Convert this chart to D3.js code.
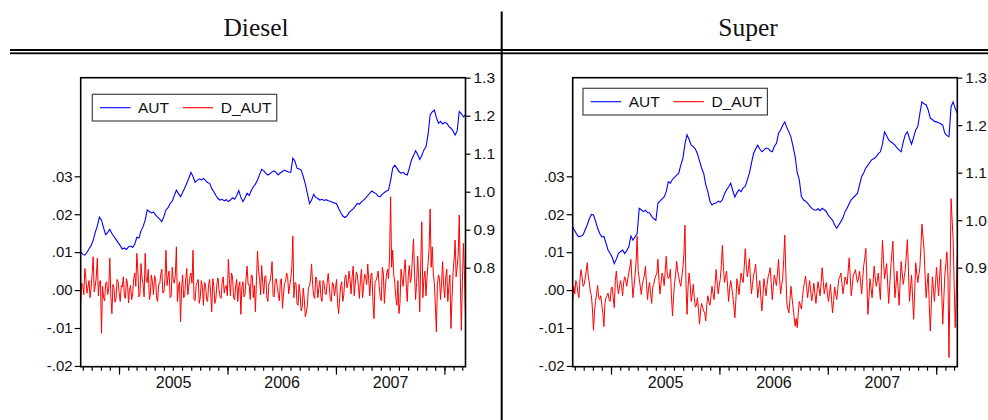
<!DOCTYPE html>
<html>
<head>
<meta charset="utf-8">
<script src="https://cdn.jsdelivr.net/npm/d3@7/dist/d3.min.js"></script>
<style>
  html, body { margin: 0; padding: 0; background: #fff; }
  svg { display: block; }
  .axis text { font-family: "Liberation Sans", Arial, sans-serif; font-size: 15px; fill: #111; }
  .axis.bx text { font-size: 16px; }
  .axis.ry text { font-size: 15.5px; }
  .axis line { stroke: #000; stroke-width: 1.2; }
  .axis path { display: none; }
</style>
</head>
<body>
<svg id="chart" width="988" height="420"></svg>
<script>
// ---------------- DATA ----------------
const panelTitles = ["Diesel", "Super"];
const seriesNames = ["AUT", "D_AUT"];
const startDate = "2004-08-25";   // first weekly observation
const endDate = "2008-03-12";
const yearLabels = [2005, 2006, 2007];
const leftTicks = [-0.02, -0.01, 0.00, 0.01, 0.02, 0.03];
const leftTickLabels = ["-.02", "-.01", ".00", ".01", ".02", ".03"];
const rightTicksDiesel = [0.8, 0.9, 1.0, 1.1, 1.2, 1.3];
const rightTicksSuper = [0.9, 1.0, 1.1, 1.2, 1.3];

// AUT: weekly observations
const autDiesel = [
0.842,0.835,0.833,0.840,0.850,0.858,0.872,0.893,0.910,0.933,
0.925,0.905,0.887,0.893,0.901,0.890,0.882,0.874,0.866,0.858,
0.849,0.852,0.848,0.855,0.857,0.853,0.862,0.880,0.878,0.897,
0.908,0.925,0.952,0.948,0.944,0.946,0.939,0.933,0.928,0.921,
0.935,0.952,0.958,0.969,0.975,0.990,1.004,0.995,0.987,0.998,
1.010,1.022,1.036,1.051,1.040,1.025,1.030,1.034,1.031,1.035,
1.030,1.024,1.022,1.008,1.000,0.990,0.982,0.978,0.980,0.976,
0.979,0.974,0.978,0.984,0.980,0.990,1.003,0.985,0.974,0.984,
0.996,0.990,1.003,1.013,1.020,1.031,1.045,1.059,1.055,1.048,
1.044,1.047,1.052,1.055,1.050,1.044,1.050,1.053,1.057,1.054,
1.052,1.051,1.088,1.080,1.062,1.060,1.057,1.040,1.020,0.995,
0.969,0.978,0.993,0.985,0.982,0.978,0.980,0.977,0.979,0.976,
0.975,0.972,0.970,0.969,0.956,0.945,0.936,0.932,0.936,0.945,
0.950,0.955,0.962,0.969,0.967,0.973,0.978,0.983,0.990,0.996,
1.002,0.998,0.995,0.988,0.987,0.993,0.998,1.002,1.004,1.030,
1.062,1.070,1.062,1.053,1.049,1.051,1.046,1.044,1.062,1.083,
1.095,1.108,1.098,1.085,1.095,1.110,1.118,1.150,1.202,1.210,
1.215,1.195,1.180,1.185,1.178,1.182,1.180,1.172,1.167,1.160,
1.149,1.160,1.211,1.205,1.197,1.202
];

const autSuper = [
0.985,0.978,0.970,0.965,0.967,0.969,0.980,0.990,1.003,1.012,
1.011,0.998,0.983,0.972,0.965,0.966,0.952,0.937,0.930,0.922,
0.909,0.918,0.930,0.934,0.937,0.930,0.936,0.944,0.967,0.958,
0.965,0.972,1.025,1.022,1.018,1.021,1.016,1.015,1.008,1.003,
1.000,1.036,1.040,1.045,1.049,1.060,1.081,1.078,1.086,1.090,
1.095,1.099,1.116,1.130,1.160,1.180,1.170,1.158,1.155,1.150,
1.140,1.125,1.110,1.099,1.075,1.060,1.040,1.032,1.035,1.036,
1.040,1.038,1.043,1.055,1.064,1.070,1.078,1.062,1.049,1.058,
1.064,1.060,1.068,1.071,1.085,1.099,1.120,1.141,1.150,1.158,
1.150,1.144,1.148,1.152,1.151,1.146,1.144,1.155,1.162,1.183,
1.190,1.200,1.207,1.195,1.186,1.175,1.155,1.134,1.100,1.085,
1.050,1.043,1.040,1.036,1.030,1.025,1.022,1.021,1.024,1.020,
1.025,1.022,1.018,1.010,1.005,1.000,0.990,0.983,0.990,0.997,
1.005,1.018,1.025,1.035,1.043,1.048,1.052,1.057,1.075,1.092,
1.100,1.110,1.116,1.122,1.128,1.130,1.134,1.140,1.144,1.160,
1.186,1.178,1.169,1.165,1.162,1.158,1.152,1.148,1.144,1.165,
1.180,1.186,1.172,1.160,1.175,1.190,1.197,1.225,1.249,1.245,
1.243,1.232,1.215,1.212,1.208,1.207,1.205,1.203,1.200,1.183,
1.178,1.176,1.239,1.249,1.235,1.225
];

// D_AUT: observations at the start of each week ...
const dAutDiesel = [
-0.0031,0.0012,0.0057,-0.0008,0.0025,0.0006,0.0088,0.0010,0.0084,0.0021,
-0.0114,-0.0020,0.0018,-0.0012,0.0084,-0.0062,0.0005,-0.0021,0.0022,-0.0030,
0.0008,-0.0015,0.0030,-0.0034,0.0012,-0.0010,0.0045,0.0097,-0.0018,0.0070,
0.0015,0.0097,0.0020,-0.0025,0.0040,-0.0012,0.0030,-0.0030,0.0016,0.0055,
-0.0005,0.0105,0.0035,-0.0020,0.0060,0.0018,0.0114,0.0008,-0.0084,0.0040,
-0.0015,0.0057,0.0010,0.0045,0.0105,-0.0028,0.0020,-0.0035,0.0025,-0.0040,
0.0015,-0.0030,0.0028,-0.0057,0.0010,-0.0022,0.0032,-0.0018,0.0020,-0.0008,
0.0012,0.0081,-0.0015,0.0035,-0.0025,0.0028,0.0010,-0.0064,0.0022,-0.0012,
0.0063,0.0015,0.0040,-0.0020,-0.0057,0.0103,0.0030,0.0065,-0.0010,0.0038,
-0.0030,0.0022,0.0075,-0.0018,0.0030,-0.0012,0.0025,-0.0048,0.0018,0.0045,
-0.0010,0.0030,0.0142,0.0020,-0.0035,0.0015,-0.0055,0.0005,-0.0070,-0.0040,
0.0010,0.0069,-0.0015,0.0035,-0.0020,0.0025,-0.0030,0.0018,-0.0012,0.0044,
-0.0025,0.0020,-0.0015,0.0028,-0.0062,0.0012,-0.0030,0.0032,0.0006,0.0050,
-0.0010,0.0063,0.0015,0.0040,-0.0022,0.0055,0.0008,0.0035,0.0069,-0.0015,
0.0045,-0.0075,0.0025,0.0050,-0.0020,0.0060,-0.0035,0.0040,0.0030,0.0246,
0.0105,0.0020,-0.0040,-0.0062,0.0055,0.0010,0.0080,-0.0030,0.0065,0.0035,
0.0135,-0.0025,0.0090,-0.0057,0.0180,0.0030,-0.0015,0.0070,0.0214,0.0114,
0.0020,-0.0110,0.0040,-0.0025,0.0075,-0.0020,0.0055,0.0010,-0.0101,0.0045,
0.0132,0.0060,0.0198,-0.0106,0.0123,-0.0070
];
// ... and at mid-week
const dAutDieselMid = [
0.0018,-0.0012,0.0030,0.0008,-0.0020,0.0042,-0.0005,0.0035,-0.0015,0.0025,
0.0010,-0.0028,0.0022,0.0005,-0.0018,0.0015,-0.0032,0.0028,-0.0008,0.0012,
0.0035,-0.0022,0.0018,0.0002,-0.0025,0.0030,0.0010,0.0048,-0.0010,0.0032,
-0.0018,0.0025,0.0055,-0.0012,0.0020,0.0038,-0.0022,0.0015,0.0042,-0.0008,
0.0030,0.0012,0.0050,-0.0015,0.0028,0.0040,-0.0030,0.0022,0.0005,-0.0020,
0.0030,-0.0012,0.0035,0.0018,-0.0025,0.0012,0.0028,-0.0018,0.0008,0.0020,
-0.0025,0.0015,-0.0010,0.0030,-0.0035,0.0018,0.0002,-0.0022,0.0035,0.0010,
-0.0015,0.0028,0.0045,-0.0020,0.0012,-0.0030,0.0022,0.0008,-0.0018,0.0030,
0.0015,-0.0025,0.0038,0.0012,0.0025,0.0050,-0.0012,0.0020,0.0035,-0.0020,
0.0018,0.0040,-0.0015,0.0025,0.0008,-0.0028,0.0030,-0.0010,0.0022,0.0035,
0.0012,0.0060,-0.0020,0.0018,-0.0040,-0.0010,-0.0045,-0.0025,-0.0058,0.0008,
0.0030,0.0015,-0.0022,0.0028,0.0005,-0.0018,0.0025,-0.0008,0.0020,0.0010,
-0.0030,0.0015,0.0005,-0.0035,-0.0020,0.0022,-0.0012,0.0040,0.0018,0.0028,
0.0035,-0.0015,0.0048,0.0010,0.0030,-0.0020,0.0042,0.0015,0.0025,0.0040,
-0.0030,0.0020,0.0035,0.0012,-0.0028,0.0045,0.0010,0.0055,0.0090,0.0060,
0.0040,-0.0020,0.0025,-0.0035,0.0030,0.0050,0.0015,0.0040,0.0020,0.0085,
0.0045,0.0020,0.0030,0.0075,-0.0020,0.0050,0.0035,0.0110,0.0060,0.0045,
-0.0040,0.0015,0.0030,0.0020,0.0010,0.0035,-0.0030,0.0040,-0.0025,0.0080,
0.0035,0.0095,0.0030,0.0020,0.0040
];

const dAutSuper = [
-0.0029,-0.0010,0.0015,-0.0020,0.0054,0.0010,0.0030,0.0072,0.0020,-0.0015,
-0.0106,-0.0030,0.0012,-0.0025,-0.0040,-0.0096,-0.0020,-0.0008,-0.0030,0.0008,
-0.0046,0.0050,-0.0010,0.0025,-0.0015,0.0035,0.0010,0.0045,0.0081,-0.0020,
0.0040,0.0142,0.0030,-0.0012,0.0028,0.0063,-0.0025,0.0020,-0.0035,0.0015,
0.0038,0.0081,-0.0010,0.0045,0.0012,0.0089,0.0030,0.0055,-0.0068,0.0020,
0.0076,0.0035,0.0010,0.0060,0.0171,-0.0064,0.0045,-0.0030,0.0015,-0.0045,
-0.0020,-0.0090,-0.0035,-0.0055,-0.0081,-0.0015,-0.0040,0.0010,-0.0025,0.0054,
-0.0010,0.0030,0.0118,0.0020,0.0050,-0.0030,0.0025,-0.0015,-0.0073,0.0030,
-0.0012,0.0045,0.0020,0.0109,0.0035,0.0083,-0.0010,0.0040,0.0068,-0.0020,
0.0025,-0.0055,0.0030,-0.0015,0.0035,0.0059,-0.0025,0.0040,0.0012,0.0081,
-0.0010,0.0030,0.0145,-0.0035,-0.0060,0.0010,-0.0045,-0.0095,-0.0099,-0.0030,
-0.0050,0.0005,0.0037,-0.0020,0.0025,-0.0028,0.0018,-0.0035,0.0022,-0.0015,
0.0059,-0.0010,0.0020,-0.0030,0.0015,-0.0060,0.0008,-0.0025,0.0030,0.0045,
-0.0010,0.0035,0.0015,0.0085,-0.0015,0.0040,0.0054,0.0020,0.0050,-0.0010,
0.0065,0.0110,-0.0064,0.0030,-0.0020,0.0063,0.0010,0.0045,-0.0025,0.0131,
0.0030,0.0070,-0.0035,0.0060,0.0129,-0.0020,0.0050,-0.0040,0.0075,0.0015,
0.0055,0.0133,-0.0030,0.0040,-0.0077,0.0072,0.0020,0.0060,0.0174,0.0107,
-0.0020,0.0045,-0.0108,0.0035,-0.0030,0.0060,-0.0015,0.0081,-0.0090,0.0040,
0.0101,-0.0178,0.0241,0.0133,-0.0099,0.0089
];
const dAutSuperMid = [
0.0010,0.0025,-0.0008,0.0030,0.0035,0.0015,0.0050,0.0035,-0.0005,-0.0050,
-0.0055,-0.0010,-0.0020,-0.0015,-0.0060,-0.0035,-0.0015,-0.0025,0.0005,-0.0020,
0.0025,0.0015,0.0008,0.0010,0.0020,0.0025,0.0030,0.0060,0.0025,0.0010,
0.0075,0.0050,0.0010,0.0015,0.0040,0.0015,0.0005,-0.0012,0.0008,0.0030,
0.0045,0.0025,0.0018,0.0035,0.0050,0.0040,0.0035,-0.0015,-0.0020,0.0040,
0.0050,0.0020,0.0035,0.0095,0.0015,0.0010,0.0015,-0.0010,-0.0020,-0.0040,
-0.0050,-0.0055,-0.0045,-0.0060,-0.0040,-0.0030,-0.0018,-0.0008,0.0015,0.0020,
0.0012,0.0065,0.0060,0.0035,0.0010,0.0005,0.0008,-0.0040,-0.0025,0.0010,
0.0018,0.0030,0.0060,0.0065,0.0055,0.0030,0.0015,0.0050,0.0025,0.0005,
-0.0020,-0.0015,0.0008,0.0015,0.0045,0.0018,0.0010,0.0025,0.0045,0.0030,
0.0012,0.0080,0.0050,-0.0050,-0.0025,-0.0020,-0.0070,-0.0075,-0.0060,-0.0040,
-0.0022,0.0020,0.0010,0.0005,-0.0005,-0.0008,-0.0010,-0.0005,0.0003,0.0020,
0.0025,0.0008,-0.0008,-0.0010,-0.0025,-0.0028,-0.0010,0.0002,0.0035,0.0018,
0.0010,0.0025,0.0050,0.0035,0.0012,0.0045,0.0035,0.0032,0.0020,0.0030,
0.0085,0.0025,-0.0020,0.0005,0.0020,0.0035,0.0025,0.0010,0.0055,0.0080,
0.0050,0.0018,0.0012,0.0095,0.0055,0.0012,0.0005,0.0020,0.0045,0.0035,
0.0095,0.0050,0.0005,-0.0020,-0.0005,0.0045,0.0040,0.0115,0.0140,0.0040,
0.0015,-0.0035,-0.0040,0.0005,0.0015,0.0022,0.0035,-0.0005,-0.0025,0.0070,
0.0040,0.0030,0.0187,0.0015,-0.0005
];

// ---------------- DRAWING ----------------
const svg = d3.select("#chart");
const parse = d3.utcParse("%Y-%m-%d");
const t0 = parse(startDate), t1 = parse(endDate);

// header table lines
svg.append("rect").attr("x", 10).attr("y", 49).attr("width", 978).attr("height", 2).attr("fill", "#000");
svg.append("rect").attr("x", 10).attr("y", 52.4).attr("width", 978).attr("height", 1.8).attr("fill", "#000");
svg.append("rect").attr("x", 500.7).attr("y", 11.5).attr("width", 2).attr("height", 409).attr("fill", "#000");

const panels = [
  { title: panelTitles[0], cx: 256, x0: 80.7, x1: 465.5, aut: autDiesel, d: dAutDiesel, dm: dAutDieselMid,
    rDomain: [0.5395, 1.3], rTicks: rightTicksDiesel, leg: [92.3, 94.3] },
  { title: panelTitles[1], cx: 748, x0: 572.7, x1: 957.3, aut: autSuper, d: dAutSuper, dm: dAutSuperMid,
    rDomain: [0.6916, 1.3], rTicks: rightTicksSuper, leg: [583, 88.3] }
];

const yTop = 77.7, yBot = 366.7;

panels.forEach(p => {
  svg.append("text")
    .attr("x", p.cx).attr("y", 35.5)
    .attr("text-anchor", "middle")
    .style("font-family", "'Liberation Serif', 'DejaVu Serif', serif")
    .style("font-size", "25.5px")
    .style("fill", "#111")
    .text(p.title);

  const x = d3.scaleUtc().domain([t0, t1]).range([p.x0, p.x1]);
  const yL = d3.scaleLinear().domain([-0.0202, 0.0560]).range([yBot, yTop]);
  const yR = d3.scaleLinear().domain(p.rDomain).range([yBot, yTop]);

  const autPts = p.aut.map((v, i) => ({ t: d3.utcDay.offset(t0, 7 * i), v }));
  const dPts = p.d.map((v, i) => ({ t: d3.utcDay.offset(t0, 7 * i), v }))
    .concat(p.dm.map((v, i) => ({ t: d3.utcHour.offset(t0, 168 * i + 84), v })))
    .sort((a, b) => a.t - b.t);

  const lineR = d3.line().x(d => x(d.t)).y(d => yR(d.v));
  const lineL = d3.line().x(d => x(d.t)).y(d => yL(d.v));

  svg.append("path").datum(autPts).attr("d", lineR)
    .attr("fill", "none").attr("stroke", "#0000ff").attr("stroke-width", 1.1);
  svg.append("path").datum(dPts).attr("d", lineL)
    .attr("fill", "none").attr("stroke", "#ff0000").attr("stroke-width", 1);

  // frame
  svg.append("rect").attr("x", p.x0).attr("y", yTop)
    .attr("width", p.x1 - p.x0).attr("height", yBot - yTop)
    .attr("fill", "none").attr("stroke", "#000").attr("stroke-width", 1.6);

  // left axis
  svg.append("g").attr("class", "axis").attr("transform", `translate(${p.x0},0)`)
    .call(d3.axisLeft(yL).tickValues(leftTicks).tickSize(6).tickPadding(2)
      .tickFormat((d, i) => leftTickLabels[i]));
  // right axis
  svg.append("g").attr("class", "axis ry").attr("transform", `translate(${p.x1},0)`)
    .call(d3.axisRight(yR).tickValues(p.rTicks).tickSize(5).tickPadding(3)
      .tickFormat(d3.format(".1f")));

  // bottom axis: monthly minor ticks, yearly major ticks, labels mid-year
  const months = d3.utcMonth.range(t0, t1);
  const years = d3.utcYear.range(t0, t1);
  svg.append("g").attr("class", "axis").attr("transform", `translate(0,${yBot})`)
    .call(d3.axisBottom(x).tickValues(months).tickSize(4).tickFormat(""));
  svg.append("g").attr("class", "axis").attr("transform", `translate(0,${yBot})`)
    .call(d3.axisBottom(x).tickValues(years).tickSize(8).tickFormat(""));
  const mid = yearLabels.map(yv => new Date(Date.UTC(yv, 6, 2)));
  svg.append("g").attr("class", "axis bx").attr("transform", `translate(0,${yBot})`)
    .call(d3.axisBottom(x).tickValues(mid).tickSize(0).tickPadding(10)
      .tickFormat(d3.utcFormat("%Y")));

  // legend
  const [lx, ly] = p.leg;
  const lg = svg.append("g").attr("transform", `translate(${lx},${ly})`);
  lg.append("rect").attr("x", 0).attr("y", 0).attr("width", 184.4).attr("height", 26.7)
    .attr("fill", "#fff").attr("stroke", "#444").attr("stroke-width", 1.2);
  const colors = ["#0000ff", "#ff0000"];
  const offs = [7.7, 90.4];
  seriesNames.forEach((n, i) => {
    lg.append("line").attr("x1", offs[i]).attr("x2", offs[i] + 30.5)
      .attr("y1", 13.4).attr("y2", 13.4).attr("stroke", colors[i]).attr("stroke-width", 1.1);
    lg.append("text").attr("x", offs[i] + 38).attr("y", 19)
      .style("font-family", "'Liberation Sans', Arial, sans-serif")
      .style("font-size", "15.5px").style("fill", "#111").text(n);
  });
});
</script>
</body>
</html>
